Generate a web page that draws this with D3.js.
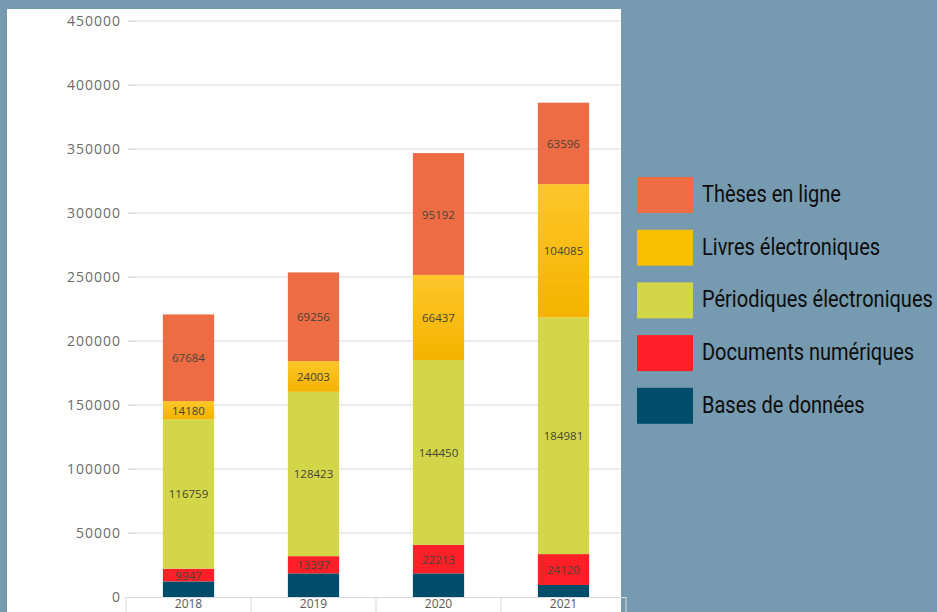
<!DOCTYPE html>
<html>
<head>
<meta charset="utf-8">
<script src="https://cdn.jsdelivr.net/npm/d3@7"></script>
<style>
  body { margin: 0; background: #769aaf; }
  svg { display: block; }
</style>
</head>
<body>
<svg id="chart" width="937" height="612"></svg>
<script>
// data
const years = ["2018", "2019", "2020", "2021"];
const bases = [12200, 18500, 18500, 9400];
const documents = [9947, 13397, 22213, 24120];
const periodiques = [116759, 128423, 144450, 184981];
const livres = [14180, 24003, 66437, 104085];
const theses = [67684, 69256, 95192, 63596];
const yTicks = [0, 50000, 100000, 150000, 200000, 250000, 300000, 350000, 400000, 450000];

const seriesNames = ["Bases de données", "Documents numériques", "Périodiques électroniques", "Livres électroniques", "Thèses en ligne"];
const seriesValues = [bases, documents, periodiques, livres, theses];
const seriesColors = ["#004d6b", "#ff1f26", "#d3d648", "url(#livresGrad)", "#ee6c43"];
const legendColors = ["#004d6b", "#ff1f26", "#d3d648", "#f6c000", "#ee6c43"];
const showLabel = [false, true, true, true, true];

const svg = d3.select("#chart");
const width = +svg.attr("width");
const height = +svg.attr("height");

// white panel
svg.append("rect")
    .attr("x", 7).attr("y", 9)
    .attr("width", 614).attr("height", height - 9)
    .attr("fill", "#ffffff");

const defs = svg.append("defs");
const grad = defs.append("linearGradient")
    .attr("id", "livresGrad")
    .attr("x1", 0).attr("y1", 0).attr("x2", 0).attr("y2", 1);
grad.append("stop").attr("offset", "0%").attr("stop-color", "#fdc62a");
grad.append("stop").attr("offset", "100%").attr("stop-color", "#f4b300");

const x = d3.scaleBand()
    .domain(years)
    .range([126, 626])
    .paddingInner(0.59)
    .paddingOuter(0.295);

const y = d3.scaleLinear()
    .domain([0, 450000])
    .range([597, 21]);

// gridlines
const plot = svg.append("g");
plot.selectAll("line.grid").data(yTicks.slice(1))
    .join("line")
    .attr("class", "grid")
    .attr("x1", 128).attr("x2", 621)
    .attr("y1", d => y(d)).attr("y2", d => y(d))
    .attr("stroke", "#d9d9d9")
    .attr("stroke-width", 1);

// y axis labels
const yAxis = d3.axisLeft(y).tickValues(yTicks).tickSize(7).tickPadding(7).tickFormat(d3.format("d"));
const yG = svg.append("g").attr("transform", "translate(135,0)").call(yAxis);
yG.select(".domain").remove();
yG.selectAll(".tick line").attr("stroke", "#d9d9d9");
yG.selectAll(".tick text")
    .attr("fill", "#6b6b6b")
    .style("font-family", "'Open Sans', sans-serif")
    .style("font-size", "14px")
    .style("letter-spacing", "1px");

// stacked bars
const rows = years.map((yr, i) => {
    const row = { year: yr };
    seriesNames.forEach((s, k) => { row[s] = seriesValues[k][i]; });
    return row;
});
const stacked = d3.stack().keys(seriesNames)(rows);

stacked.forEach((layer, k) => {
    plot.selectAll("rect.s" + k).data(layer)
        .join("rect")
        .attr("class", "s" + k)
        .attr("x", d => x(d.data.year))
        .attr("y", d => y(d[1]))
        .attr("width", x.bandwidth())
        .attr("height", d => y(d[0]) - y(d[1]))
        .attr("fill", seriesColors[k]);
    if (showLabel[k]) {
        plot.selectAll("text.l" + k).data(layer)
            .join("text")
            .attr("class", "l" + k)
            .attr("x", d => x(d.data.year) + x.bandwidth() / 2)
            .attr("y", d => (y(d[0]) + y(d[1])) / 2)
            .attr("text-anchor", "middle")
            .attr("dominant-baseline", "central")
            .attr("fill", "#45453a")
            .style("font-family", "'Open Sans', sans-serif")
            .style("font-size", "11.5px")
            .text(d => d.data[layer.key]);
    }
});

// x axis
const xAxis = d3.axisBottom(x).tickSize(0).tickPadding(2);
const xG = svg.append("g").attr("transform", "translate(0,597)").call(xAxis);
xG.select(".domain").attr("stroke", "#d9d9d9");
xG.selectAll(".tick text")
    .attr("fill", "#595959")
    .style("font-family", "'Open Sans', sans-serif")
    .style("font-size", "12px");
// category separators
xG.selectAll("line.sep").data(d3.range(years.length + 1))
    .join("line")
    .attr("class", "sep")
    .attr("x1", i => 126 + i * x.step())
    .attr("x2", i => 126 + i * x.step())
    .attr("y1", 0).attr("y2", 15)
    .attr("stroke", "#d9d9d9");

// legend
const legend = svg.append("g").attr("transform", "translate(637,177)");
const legendOrder = [4, 3, 2, 1, 0];
const legendTexts = [];
legendOrder.forEach((k, i) => {
    legend.append("rect")
        .attr("x", 0).attr("y", i * 52.7)
        .attr("width", 56).attr("height", 36)
        .attr("fill", legendColors[k]);
    const t = legend.append("g")
        .attr("transform", `translate(65,${i * 52.7 + 25})`)
        .append("text")
        .attr("fill", "#0d0d0d")
        .style("font-family", "Roboto, sans-serif")
        .style("font-size", "24px")
        .text(seriesNames[k]);
    legendTexts.push(t);
});
// condensed look: squeeze so the longest entry is as wide as in the reference
const longest = d3.max(legendTexts, t => t.node().getComputedTextLength());
const sx = 231 / longest;
legendTexts.forEach(t => t.attr("transform", `scale(${sx},1)`));
</script>
</body>
</html>
